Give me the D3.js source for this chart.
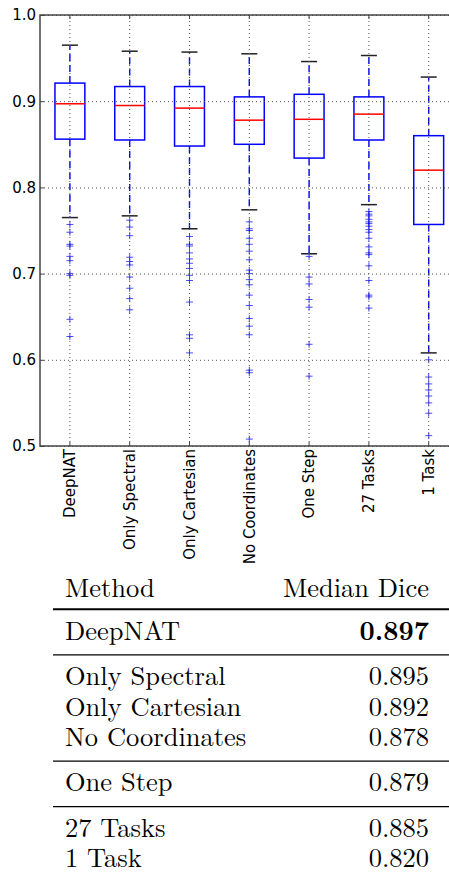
<!DOCTYPE html>
<html>
<head>
<meta charset="utf-8">
<script src="https://cdn.jsdelivr.net/npm/d3@7"></script>
<style>
  html, body { margin: 0; padding: 0; background: #fff; }
  svg { display: block; }
</style>
</head>
<body>
<div id="chart"></div>
<script>
// values
const categories = ["DeepNAT", "Only Spectral", "Only Cartesian", "No Coordinates", "One Step", "27 Tasks", "1 Task"];
const q1 = [0.856, 0.855, 0.848, 0.850, 0.834, 0.855, 0.757];
const medians = [0.897, 0.895, 0.892, 0.878, 0.879, 0.885, 0.820];
const q3 = [0.921, 0.917, 0.917, 0.905, 0.908, 0.905, 0.860];
const whiskerLow = [0.765, 0.767, 0.752, 0.774, 0.723, 0.780, 0.608];
const whiskerHigh = [0.965, 0.958, 0.957, 0.955, 0.946, 0.953, 0.928];
const outliers = [
  [0.757, 0.748, 0.734, 0.732, 0.720, 0.715, 0.700, 0.698, 0.647, 0.627],
  [0.762, 0.754, 0.744, 0.719, 0.714, 0.710, 0.696, 0.683, 0.671, 0.658],
  [0.743, 0.734, 0.732, 0.724, 0.717, 0.712, 0.706, 0.698, 0.692, 0.667, 0.629, 0.625, 0.608],
  [0.760, 0.752, 0.750, 0.741, 0.734, 0.726, 0.716, 0.704, 0.700, 0.693, 0.687, 0.675, 0.663, 0.648, 0.639, 0.629, 0.588, 0.585, 0.508],
  [0.720, 0.696, 0.688, 0.670, 0.661, 0.618, 0.581],
  [0.772, 0.769, 0.767, 0.763, 0.760, 0.758, 0.755, 0.751, 0.748, 0.741, 0.731, 0.724, 0.722, 0.709, 0.692, 0.675, 0.673, 0.660],
  [0.600, 0.580, 0.572, 0.565, 0.558, 0.550, 0.538, 0.512]
];
const yTicks = [0.5, 0.6, 0.7, 0.8, 0.9, 1.0];

// table below the plot
const tableHeader = ["Method", "Median Dice"];
const tableGroupSizes = [1, 3, 1, 2];
const boldRow = "DeepNAT";

const W = 449, H = 875;
const plot = { left: 40, top: 15, right: 458.6, bottom: 446 };

const svg = d3.select("#chart").append("svg")
    .attr("width", W)
    .attr("height", H);

const x = d3.scaleBand().domain(categories).range([plot.left, plot.right]).padding(0);
const y = d3.scaleLinear().domain([0.5, 1.0]).range([plot.bottom, plot.top]);
const cx = d => x(d) + x.bandwidth() / 2;
const boxW = x.bandwidth() * 0.5;
const capW = 16;

const data = categories.map((c, i) => ({
    name: c, q1: q1[i], med: medians[i], q3: q3[i],
    lo: whiskerLow[i], hi: whiskerHigh[i], out: outliers[i]
}));

const g = svg.append("g");

// boxes
const box = g.selectAll(".box").data(data).enter().append("g").attr("class", "box");

box.append("line") // upper whisker
    .attr("x1", d => cx(d.name)).attr("x2", d => cx(d.name))
    .attr("y1", d => y(d.q3)).attr("y2", d => y(d.hi))
    .attr("stroke", "#0000ff").attr("stroke-width", 1.4)
    .attr("stroke-dasharray", "7,4");
box.append("line") // lower whisker
    .attr("x1", d => cx(d.name)).attr("x2", d => cx(d.name))
    .attr("y1", d => y(d.q1)).attr("y2", d => y(d.lo))
    .attr("stroke", "#0000ff").attr("stroke-width", 1.4)
    .attr("stroke-dasharray", "7,4");

["hi", "lo"].forEach(k => {
    box.append("line")
        .attr("x1", d => cx(d.name) - capW / 2).attr("x2", d => cx(d.name) + capW / 2)
        .attr("y1", d => y(d[k])).attr("y2", d => y(d[k]))
        .attr("stroke", "#222").attr("stroke-width", 1.5);
});

box.append("rect")
    .attr("x", d => cx(d.name) - boxW / 2)
    .attr("width", boxW)
    .attr("y", d => y(d.q3))
    .attr("height", d => y(d.q1) - y(d.q3))
    .attr("fill", "none")
    .attr("stroke", "#0000ff")
    .attr("stroke-width", 1.5);

box.append("line")
    .attr("x1", d => cx(d.name) - boxW / 2).attr("x2", d => cx(d.name) + boxW / 2)
    .attr("y1", d => y(d.med)).attr("y2", d => y(d.med))
    .attr("stroke", "#ff0000").attr("stroke-width", 1.5);

// fliers as "+"
box.selectAll(".flier")
    .data(d => d.out.map(v => ({ name: d.name, v: v })))
    .enter().append("path")
    .attr("class", "flier")
    .attr("d", d => {
        const px = cx(d.name), py = y(d.v), s = 3.5;
        return `M${px - s},${py}H${px + s}M${px},${py - s}V${py + s}`;
    })
    .attr("stroke", "#0000ff")
    .attr("stroke-opacity", 0.7)
    .attr("stroke-width", 1);

// dotted grid
g.append("g")
    .call(d3.axisLeft(y).tickValues(yTicks).tickSize(-(plot.right - plot.left)).tickFormat(""))
    .attr("transform", `translate(${plot.left},0)`)
    .call(a => a.select(".domain").remove())
    .selectAll("line")
    .attr("stroke", "#555")
    .attr("stroke-dasharray", "1,3");

g.append("g")
    .call(d3.axisBottom(x).tickSize(-(plot.bottom - plot.top)).tickFormat(""))
    .attr("transform", `translate(0,${plot.bottom})`)
    .call(a => a.select(".domain").remove())
    .selectAll("line")
    .attr("stroke", "#555")
    .attr("stroke-dasharray", "1,3");

// frame
svg.append("rect")
    .attr("x", plot.left).attr("y", plot.top)
    .attr("width", plot.right - plot.left)
    .attr("height", plot.bottom - plot.top)
    .attr("fill", "none")
    .attr("stroke", "#444")
    .attr("stroke-width", 1.5);

// y axis with inward ticks
const yAxis = svg.append("g")
    .attr("transform", `translate(${plot.left},0)`)
    .call(d3.axisLeft(y).tickValues(yTicks).tickFormat(d3.format(".1f")).tickSize(-4).tickPadding(4))
    .call(a => a.select(".domain").remove());
yAxis.selectAll("line").attr("stroke", "#444");
yAxis.selectAll("text")
    .style("font-family", "DejaVu Sans, sans-serif")
    .style("font-size", "15px")
    .attr("fill", "#000");

// top ticks
svg.append("g")
    .attr("transform", `translate(0,${plot.top})`)
    .call(d3.axisTop(x).tickSize(-4).tickFormat(""))
    .call(a => a.select(".domain").remove())
    .selectAll("line").attr("stroke", "#444");

// x axis with rotated labels
const xAxis = svg.append("g")
    .attr("transform", `translate(0,${plot.bottom})`)
    .call(d3.axisBottom(x).tickSize(-4))
    .call(a => a.select(".domain").remove());
xAxis.selectAll("line").attr("stroke", "#444");
xAxis.selectAll("text")
    .attr("transform", "rotate(-90)")
    .attr("x", -3)
    .attr("y", 0)
    .attr("dy", "0.35em")
    .style("text-anchor", "end")
    .style("font-family", "DejaVu Sans, sans-serif")
    .style("font-size", "15px")
    .attr("fill", "#000");

// table
const tbl = { left: 65, right: 429, ruleL: 53, ruleR: 452, header: 596.7, topRule: 609.3, pitch: 30.3, gap: 15.3 };
const serif = "'Latin Modern Roman', 'CMU Serif', 'Liberation Serif', serif";
const fs = "26.5px";

const t = svg.append("g").attr("class", "table");
t.append("text").attr("x", tbl.left).attr("y", tbl.header)
    .style("font-family", serif).style("font-size", fs).text(tableHeader[0]);
t.append("text").attr("x", tbl.right).attr("y", tbl.header)
    .attr("text-anchor", "end")
    .style("font-family", serif).style("font-size", fs).text(tableHeader[1]);

t.append("line")
    .attr("x1", tbl.ruleL).attr("x2", tbl.ruleR)
    .attr("y1", tbl.topRule).attr("y2", tbl.topRule)
    .attr("stroke", "#000").attr("stroke-width", 2);

let rowY = tbl.topRule, idx = 0;
tableGroupSizes.forEach((n, gi) => {
    if (gi > 0) {
        const ry = rowY + tbl.gap;
        t.append("line")
            .attr("x1", tbl.ruleL).attr("x2", tbl.ruleR)
            .attr("y1", ry).attr("y2", ry)
            .attr("stroke", "#000").attr("stroke-width", 1.2);
        rowY = ry;
    }
    for (let k = 0; k < n; k++) {
        rowY += tbl.pitch;
        const name = categories[idx];
        t.append("text").attr("x", tbl.left).attr("y", rowY)
            .style("font-family", serif).style("font-size", fs).text(name);
        t.append("text").attr("x", tbl.right).attr("y", rowY)
            .attr("text-anchor", "end")
            .style("font-family", serif).style("font-size", fs)
            .style("font-weight", name === boldRow ? "bold" : "normal")
            .text(d3.format(".3f")(medians[idx]));
        idx++;
    }
});
</script>
</body>
</html>
